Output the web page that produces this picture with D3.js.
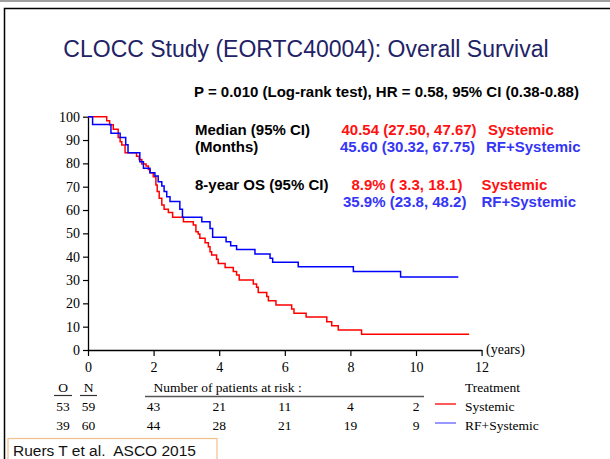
<!DOCTYPE html>
<html>
<head>
<meta charset="utf-8">
<script src="https://cdn.jsdelivr.net/npm/d3@7"></script>
<style>
  html, body { margin: 0; padding: 0; background: #fff; }
  svg { display: block; }
</style>
</head>
<body>
<svg id="chart" width="610" height="459"></svg>
<script>
// ---------- data ----------
const sysTimes = [0, 0.57, 0.66, 0.77, 0.92, 0.98, 1.03, 1.13, 1.48, 1.56, 1.64, 1.77, 1.84, 1.89, 1.99, 2.07, 2.11, 2.17, 2.25, 2.32, 2.45, 2.58, 2.91, 3.21, 3.29, 3.36, 3.41, 3.57, 3.67, 3.72, 3.77, 3.92, 3.97, 4.18, 4.43, 4.53, 4.61, 5.04, 5.14, 5.19, 5.45, 5.50, 5.73, 6.21, 6.28, 6.65, 7.28, 7.43, 7.63, 8.34, 11.62];
const sysSurv  = [100, 98.3, 96.6, 94.6, 91.1, 89.3, 87.9, 84.6, 83.1, 81.7, 79.7, 78.9, 77.4, 76.0, 74.3, 70.7, 67.9, 65.0, 62.1, 60.3, 58.9, 56.9, 55.0, 53.6, 50.7, 49.7, 47.9, 46.0, 44.3, 42.1, 40.7, 38.9, 37.1, 35.4, 33.6, 32.1, 30.0, 28.3, 26.9, 24.7, 22.9, 21.1, 19.3, 17.6, 15.7, 14.1, 12.1, 10.4, 8.6, 6.7, 6.7];
const rfTimes  = [0, 0.14, 0.70, 0.98, 1.15, 1.22, 1.58, 1.69, 1.89, 2.04, 2.14, 2.25, 2.32, 2.40, 2.50, 2.80, 2.88, 3.47, 3.72, 3.80, 4.21, 4.35, 4.53, 5.09, 5.55, 5.63, 6.41, 8.09, 9.53, 11.29];
const rfSurv   = [100, 96.7, 92.9, 91.1, 88.0, 84.6, 80.7, 77.9, 76.0, 74.6, 72.1, 70.3, 67.9, 65.7, 63.6, 60.3, 56.9, 55.0, 52.1, 48.3, 46.4, 44.7, 43.1, 41.1, 39.3, 37.6, 35.7, 33.7, 31.3, 31.3];

const xTicks = [0, 2, 4, 6, 8, 10, 12];
const yTicks = [0, 10, 20, 30, 40, 50, 60, 70, 80, 90, 100];

const riskTimes    = [2, 4, 6, 8, 10];
const riskSystemic = [43, 21, 11, 4, 2];
const riskRF       = [44, 28, 21, 19, 9];
const groupNames   = ["Systemic", "RF+Systemic"];
const observed     = [53, 39];
const numbers      = [59, 60];

const titleText = "CLOCC Study (EORTC40004): Overall Survival";
const pText = "P = 0.010 (Log-rank test), HR = 0.58, 95% CI (0.38-0.88)";
const medianVals = ["40.54 (27.50, 47.67)", "45.60 (30.32, 67.75)"];
const osVals = ["8.9% ( 3.3, 18.1)", "35.9% (23.8, 48.2)"];

// ---------- drawing ----------
const svg = d3.select("#chart");
const RED = "#ff0000", BLUE = "#0000ff", NAVY = "#222266";
const TXTRED = "#ff1111", TXTBLUE = "#3535f5";
const serif = "'Liberation Serif', 'Times New Roman', serif";
const sans = "'Liberation Sans', Arial, sans-serif";

// slide frame
svg.append("rect").attr("x", 0).attr("y", 0).attr("width", 610).attr("height", 2).attr("fill", "#a0a0a0");
svg.append("rect").attr("x", 4.5).attr("y", 8.5).attr("width", 620).attr("height", 470)
  .attr("fill", "none").attr("stroke", "#000").attr("stroke-width", 1.5);

// title
svg.append("text").attr("x", 306).attr("y", 57).attr("text-anchor", "middle")
  .attr("font-family", sans).attr("font-size", 23).attr("fill", NAVY).text(titleText);

const x = d3.scaleLinear().domain([0, 12]).range([88, 481.6]);
const y = d3.scaleLinear().domain([0, 100]).range([350, 116.7]);

// axes
const gy = svg.append("g").attr("transform", `translate(${x(0)},0)`)
  .call(d3.axisLeft(y).tickValues(yTicks).tickSize(5).tickPadding(3).tickSizeOuter(0));
const gx = svg.append("g").attr("transform", `translate(0,${y(0)})`)
  .call(d3.axisBottom(x).tickValues(xTicks).tickSize(6).tickPadding(6).tickSizeOuter(0));
[gx, gy].forEach(g => {
  g.selectAll("path.domain").attr("stroke", "#000").attr("stroke-width", 1.3);
  g.selectAll(".tick line").attr("stroke", "#000").attr("stroke-width", 1.2);
  g.selectAll(".tick text").attr("font-family", serif).attr("font-size", 14).attr("fill", "#000");
});
svg.append("text").attr("x", 486).attr("y", 354).attr("font-family", serif).attr("font-size", 14).text("(years)");

// curves
const line = d3.line().x(d => x(d[0])).y(d => y(d[1])).curve(d3.curveStepAfter);
const sysData = sysTimes.map((t, i) => [t, sysSurv[i]]);
const rfData = rfTimes.map((t, i) => [t, rfSurv[i]]);
svg.append("path").datum(sysData).attr("d", line).attr("fill", "none").attr("stroke", RED).attr("stroke-width", 1.5);
svg.append("path").datum(rfData).attr("d", line).attr("fill", "none").attr("stroke", BLUE).attr("stroke-width", 1.5);

// statistics text
const bold = (tx, ty, s, col) => svg.append("text").attr("x", tx).attr("y", ty)
  .attr("font-family", sans).attr("font-weight", "bold").attr("font-size", 15).attr("fill", col).text(s);
bold(194, 97, pText, "#000");
bold(195, 135, "Median (95% CI)", "#000");
bold(195, 152, "(Months)", "#000");
bold(341.5, 135, medianVals[0], TXTRED);
bold(488, 135, groupNames[0], TXTRED);
bold(340, 152, medianVals[1], TXTBLUE);
bold(486, 152, groupNames[1], TXTBLUE);
bold(195, 190, "8-year OS (95% CI)", "#000");
bold(351.5, 190, osVals[0], TXTRED);
bold(481.5, 190, groupNames[0], TXTRED);
bold(343, 207, osVals[1], TXTBLUE);
bold(481.5, 207, groupNames[1], TXTBLUE);

// numbers at risk table
const serifText = (tx, ty, s, anchor) => svg.append("text").attr("x", tx).attr("y", ty)
  .attr("text-anchor", anchor || "middle").attr("font-family", serif).attr("font-size", 13.5).attr("fill", "#000").text(s);
serifText(63, 392, "O");
serifText(88.5, 392, "N");
svg.append("line").attr("x1", 54).attr("x2", 72).attr("y1", 395.5).attr("y2", 395.5).attr("stroke", "#333").attr("stroke-width", 1.2);
svg.append("line").attr("x1", 80).attr("x2", 97).attr("y1", 395.5).attr("y2", 395.5).attr("stroke", "#333").attr("stroke-width", 1.2);
serifText(x(2), 392, "Number of patients at risk :", "start");
svg.append("line").attr("x1", 145).attr("x2", 424).attr("y1", 396.5).attr("y2", 396.5).attr("stroke", "#555").attr("stroke-width", 1.5);
serifText(465, 392, "Treatment", "start");

const rowY = [411, 430];
const rows = [riskSystemic, riskRF];
const legCols = [RED, "#6060ff"];
rows.forEach((r, k) => {
  serifText(63, rowY[k], observed[k]);
  serifText(88.5, rowY[k], numbers[k]);
  r.forEach((v, i) => serifText(x(riskTimes[i]), rowY[k], v));
  svg.append("line").attr("x1", 435).attr("x2", 456).attr("y1", rowY[k] - 7).attr("y2", rowY[k] - 7)
    .attr("stroke", legCols[k]).attr("stroke-width", 1.3);
  serifText(465, rowY[k], groupNames[k], "start");
});

// citation box
svg.append("rect").attr("x", 8).attr("y", 438.5).attr("width", 209).attr("height", 30)
  .attr("fill", "#fff").attr("stroke", "#f2c08c").attr("stroke-width", 1.2);
svg.append("text").attr("x", 13).attr("y", 456).attr("font-family", sans).attr("font-size", 15.5)
  .attr("fill", "#111").style("white-space", "pre").text("Ruers T et al.  ASCO 2015");
</script>
</body>
</html>
